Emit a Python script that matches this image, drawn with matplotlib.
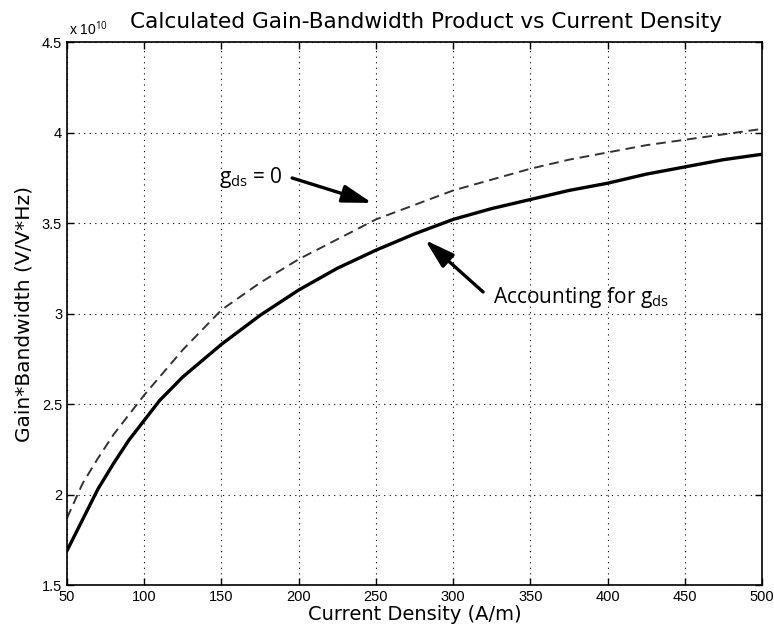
import matplotlib
matplotlib.use("Agg")
import matplotlib.pyplot as plt
from matplotlib.ticker import FuncFormatter

plt.rcParams['font.family'] = ['Liberation Sans', 'DejaVu Sans']
plt.rcParams['mathtext.fontset'] = 'custom'
plt.rcParams['mathtext.rm'] = 'Open Sans'

# Current density (A/m)
j_solid = [50, 60, 70, 80, 90, 100, 110, 125, 150, 175, 200, 225, 250, 275,
           300, 325, 350, 375, 400, 425, 450, 475, 500]
# Gain*Bandwidth accounting for gds (units of 1e10)
gbw_solid = [1.69, 1.86, 2.03, 2.17, 2.30, 2.41, 2.52, 2.65, 2.83, 2.99, 3.13,
             3.25, 3.35, 3.44, 3.52, 3.58, 3.63, 3.68, 3.72, 3.77, 3.81, 3.85, 3.88]
j_dash = [50, 60, 70, 80, 90, 100, 110, 125, 150, 175, 200, 225, 250, 275,
          300, 325, 350, 375, 400, 425, 450, 475, 500]
# Gain*Bandwidth with gds = 0 (units of 1e10)
gbw_dash = [1.87, 2.06, 2.20, 2.33, 2.44, 2.55, 2.65, 2.80, 3.02, 3.17, 3.30,
            3.41, 3.52, 3.60, 3.68, 3.74, 3.80, 3.85, 3.89, 3.93, 3.96, 3.99, 4.02]

x_ticks = [50, 100, 150, 200, 250, 300, 350, 400, 450, 500]
y_ticks = [1.5, 2, 2.5, 3, 3.5, 4, 4.5]
scale = 1e10

fig = plt.figure(figsize=(7.74, 6.33), dpi=100)
ax = fig.add_axes([0.0866, 0.0758, 0.898, 0.8578])

ax.plot(j_dash, [v * scale for v in gbw_dash], color='#333333', lw=1.4,
        dashes=(5, 3))
ax.plot(j_solid, [v * scale for v in gbw_solid], color='black', lw=2.4)

ax.set_xlim(50, 500)
ax.set_ylim(1.5 * scale, 4.5 * scale)
ax.set_xticks(x_ticks)
ax.set_yticks([v * scale for v in y_ticks])
ax.yaxis.set_major_formatter(FuncFormatter(lambda v, p: ('%g' % (v / scale))))
ax.grid(True, color='black', linestyle=(0, (1, 4)), linewidth=0.8)
ax.tick_params(direction='in', top=True, right=True, labelsize=10.5, length=5,
               width=1)
for s in ax.spines.values():
    s.set_linewidth(1.2)

ax.set_title('Calculated Gain-Bandwidth Product vs Current Density',
             fontsize=15.6, pad=10, family='DejaVu Sans', x=0.517)
ax.set_xlabel('Current Density (A/m)', fontsize=14, labelpad=1,
              family='DejaVu Sans')
ax.set_ylabel('Gain*Bandwidth (V/V*Hz)', fontsize=14.5, labelpad=6,
              family='DejaVu Sans')
ax.text(0.003, 1.008, r'x 10$^{10}$', transform=ax.transAxes, fontsize=10,
        ha='left', va='bottom')

arrow = dict(arrowstyle='-|>,head_length=1.5,head_width=0.45',
             color='black', lw=2.4, shrinkA=0, shrinkB=0, mutation_scale=12)
ax.annotate('', xy=(247.5, 3.611 * scale), xytext=(195.7, 3.749 * scale),
            arrowprops=arrow)
ax.annotate('', xy=(281.8, 3.406 * scale), xytext=(319.4, 3.119 * scale),
            arrowprops=arrow)
ax.text(189.5, 3.721 * scale, r'$\mathrm{g_{ds}}$ = 0', fontsize=15,
        family='Open Sans', ha='right', va='baseline')
ax.text(325.8, 3.058 * scale, r'Accounting for $\mathrm{g_{ds}}$', fontsize=15,
        family='Open Sans', ha='left', va='baseline')

fig.savefig('out.png', dpi=100)
